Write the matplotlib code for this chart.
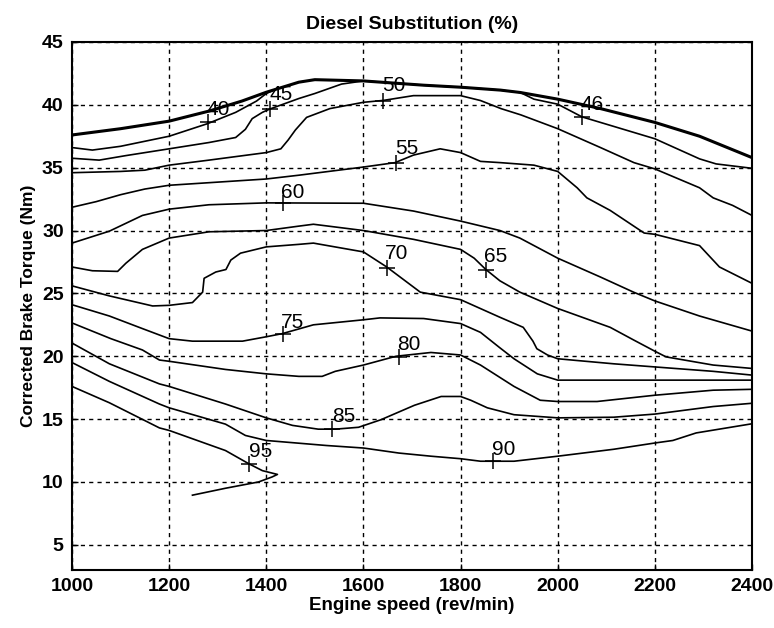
import matplotlib
matplotlib.use("Agg")
import matplotlib.pyplot as plt

# ---- contour lines (engine speed rev/min, corrected brake torque Nm) ----
edge_rpm = [1000, 1100, 1200, 1282, 1350, 1400, 1467, 1500, 1600, 1724, 1800, 1882, 1923, 2000, 2088, 2200, 2292, 2400]
edge_nm = [37.6, 38.1, 38.7, 39.5, 40.3, 41.0, 41.8, 42.0, 41.9, 41.56, 41.4, 41.17, 40.98, 40.45, 39.7, 38.6, 37.5, 35.8]

c40_rpm = [1000, 1042, 1100, 1200, 1279, 1337, 1380, 1400, 1420]
c40_nm = [36.6, 36.4, 36.7, 37.5, 38.5, 39.4, 40.3, 40.9, 41.25]

c45_rpm = [1000, 1056, 1111, 1200, 1282, 1337, 1357, 1371, 1392, 1407, 1467, 1500, 1555,
           1600, 1724, 1800, 1882, 1923, 1951, 2000, 2050, 2200, 2292, 2326, 2400]
c45_nm = [35.75, 35.6, 35.96, 36.5, 37.0, 37.4, 38.05, 38.9, 39.4, 39.66, 40.5, 40.9, 41.65,
          41.9, 41.56, 41.4, 41.17, 40.98, 40.45, 40.05, 39.04, 37.3, 35.7, 35.3, 34.95]

c50_rpm = [1000, 1100, 1150, 1200, 1282, 1400, 1430, 1445, 1460, 1483, 1531, 1600, 1641, 1703,
           1800, 1841, 1883, 1924, 2000, 2088, 2157, 2200, 2292, 2320, 2360, 2400]
c50_nm = [34.6, 34.7, 34.8, 35.2, 35.6, 36.2, 36.5, 37.2, 38.0, 39.0, 39.7, 40.2, 40.35, 40.73,
          40.73, 40.34, 39.7, 39.2, 38.1, 36.6, 35.4, 34.9, 33.4, 32.6, 32.0, 31.2]

c55_rpm = [1000, 1050, 1100, 1150, 1200, 1300, 1400, 1467, 1600, 1665, 1703, 1758, 1800, 1841,
           1882, 1951, 2000, 2040, 2060, 2108, 2178, 2200, 2292, 2333, 2400]
c55_nm = [31.85, 32.3, 32.85, 33.3, 33.6, 33.85, 34.1, 34.4, 35.05, 35.4, 36.0, 36.5, 36.2, 35.5,
          35.4, 35.2, 34.7, 33.4, 32.6, 31.6, 29.8, 29.7, 28.8, 27.1, 25.8]

c60_rpm = [1000, 1077, 1145, 1200, 1282, 1400, 1600, 1703, 1800, 1881, 1922, 2000, 2088, 2156,
           2200, 2292, 2400]
c60_nm = [29.0, 29.95, 31.2, 31.7, 32.05, 32.2, 32.17, 31.55, 30.75, 30.0, 29.4, 27.8, 26.3, 25.1,
          24.4, 23.2, 22.0]

c65_rpm = [1000, 1042, 1094, 1111, 1145, 1200, 1282, 1400, 1467, 1497, 1600, 1703, 1800, 1828,
           1852, 1881, 1922, 2000, 2108, 2156, 2200, 2223, 2320, 2400]
c65_nm = [27.1, 26.8, 26.75, 27.4, 28.5, 29.4, 29.9, 30.0, 30.35, 30.5, 30.0, 29.3, 28.5, 27.8,
          26.9, 26.0, 25.1, 23.8, 22.3, 21.3, 20.4, 19.95, 19.3, 19.03]

c70_rpm = [1000, 1077, 1166, 1200, 1248, 1269, 1272, 1296, 1317, 1327, 1347, 1400, 1467, 1497,
           1600, 1648, 1717, 1800, 1881, 1929, 1949, 1957, 1979, 2000, 2115, 2200, 2320, 2400]
c70_nm = [25.6, 24.8, 24.0, 24.05, 24.27, 25.1, 26.2, 26.7, 26.9, 27.65, 28.2, 28.7, 28.9, 29.0,
          28.3, 27.1, 25.1, 24.5, 23.1, 22.3, 21.2, 20.6, 20.1, 19.8, 19.4, 19.15, 18.8, 18.5]

c75_rpm = [1000, 1077, 1145, 1200, 1248, 1351, 1400, 1433, 1497, 1600, 1634, 1724, 1800, 1841,
           1880, 1910, 1958, 2000, 2200, 2400]
c75_nm = [24.1, 23.2, 22.2, 21.4, 21.2, 21.2, 21.55, 21.8, 22.5, 22.9, 23.05, 23.0, 22.6, 21.9,
          20.7, 19.8, 18.6, 18.1, 18.1, 18.1]

c80_rpm = [1000, 1080, 1145, 1180, 1200, 1316, 1400, 1467, 1515, 1542, 1600, 1667, 1739, 1800,
           1841, 1910, 1964, 2000, 2081, 2200, 2320, 2400]
c80_nm = [22.65, 21.4, 20.5, 19.7, 19.6, 18.95, 18.6, 18.4, 18.4, 18.8, 19.3, 20.0, 20.3, 20.1,
          19.3, 17.6, 16.5, 16.4, 16.4, 16.9, 17.3, 17.37]

c85_rpm = [1000, 1077, 1180, 1200, 1316, 1400, 1454, 1507, 1542, 1590, 1636, 1705, 1760, 1800,
           1821, 1855, 1910, 2000, 2115, 2200, 2320, 2400]
c85_nm = [21.05, 19.4, 17.8, 17.6, 16.2, 15.1, 14.5, 14.2, 14.2, 14.35, 14.95, 16.1, 16.8, 16.8,
          16.5, 15.9, 15.35, 15.1, 15.15, 15.4, 16.0, 16.26]

c90_rpm = [1000, 1077, 1180, 1200, 1316, 1357, 1400, 1524, 1600, 1673, 1739, 1800, 1841, 1910,
           2000, 2115, 2200, 2237, 2285, 2400]
c90_nm = [19.5, 18.0, 16.2, 15.9, 14.6, 13.7, 13.3, 12.9, 12.7, 12.3, 12.05, 11.85, 11.65, 11.65,
          12.05, 12.6, 13.1, 13.3, 13.9, 14.63]

c95_rpm = [1000, 1077, 1180, 1200, 1316, 1364, 1392, 1423, 1412, 1384, 1316, 1248]
c95_nm = [17.6, 16.3, 14.3, 14.1, 12.5, 11.45, 10.9, 10.6, 10.4, 10.0, 9.5, 8.95]

# ---- contour labels ----
label_text = ["40", "45", "50", "55", "60", "65", "70", "75", "80", "85", "90", "95", "46"]
label_x = [1300, 1430, 1662, 1690, 1455, 1872, 1669, 1455, 1694, 1560, 1889, 1388, 2071]
label_y = [39.6, 40.8, 41.5, 36.5, 33.05, 27.9, 28.2, 22.7, 20.95, 15.2, 12.6, 12.4, 40.05]
mark_x = [1279, 1407, 1640, 1668, 1434, 1852, 1648, 1434, 1674, 1536, 1866, 1364, 2050]
mark_y = [38.6, 39.66, 40.34, 35.4, 32.2, 26.9, 27.05, 21.8, 19.95, 14.2, 11.65, 11.45, 39.04]

x_ticks = [1000, 1200, 1400, 1600, 1800, 2000, 2200, 2400]
y_ticks = [5, 10, 15, 20, 25, 30, 35, 40, 45]

title_text = "Diesel Substitution (%)"
xlabel_text = "Engine speed (rev/min)"
ylabel_text = "Corrected Brake Torque (Nm)"

plt.rcParams['font.family'] = ['Liberation Sans', 'DejaVu Sans']

fig = plt.figure(figsize=(7.74, 6.28), dpi=100)
ax = fig.add_axes([0.0930, 0.0924, 0.8786, 0.8408])

ax.plot(edge_rpm, edge_nm, color='black', lw=2.2, solid_capstyle='butt')
for xs, ys in [(c40_rpm, c40_nm), (c45_rpm, c45_nm), (c50_rpm, c50_nm), (c55_rpm, c55_nm),
               (c60_rpm, c60_nm), (c65_rpm, c65_nm), (c70_rpm, c70_nm), (c75_rpm, c75_nm),
               (c80_rpm, c80_nm), (c85_rpm, c85_nm), (c90_rpm, c90_nm), (c95_rpm, c95_nm)]:
    ax.plot(xs, ys, color='black', lw=1.2)

ax.plot(mark_x, mark_y, linestyle='none', marker='+', color='black', markersize=11, markeredgewidth=1.1)
for t, x, y in zip(label_text, label_x, label_y):
    ax.text(x, y, t, fontsize=15, ha='center', va='center', color='black')

ax.set_xlim(1000, 2400)
ax.set_ylim(3, 45)
ax.set_xticks(x_ticks)
ax.set_yticks(y_ticks)
ax.tick_params(direction='in', length=4, width=1, labelsize=14, pad=6)
for lab in ax.get_xticklabels() + ax.get_yticklabels():
    lab.set_fontweight('bold')
ax.grid(True, color='black', linestyle=(0, (3, 3)), linewidth=1.0)
for s in ax.spines.values():
    s.set_linewidth(1.5)

ax.set_title(title_text, fontsize=14, fontweight='bold', pad=9)
ax.set_xlabel(xlabel_text, fontsize=13.5, fontweight='bold', labelpad=1)
ax.set_ylabel(ylabel_text, fontsize=12.5, fontweight='bold', labelpad=4)

fig.savefig('out.png', dpi=100, facecolor='white')
